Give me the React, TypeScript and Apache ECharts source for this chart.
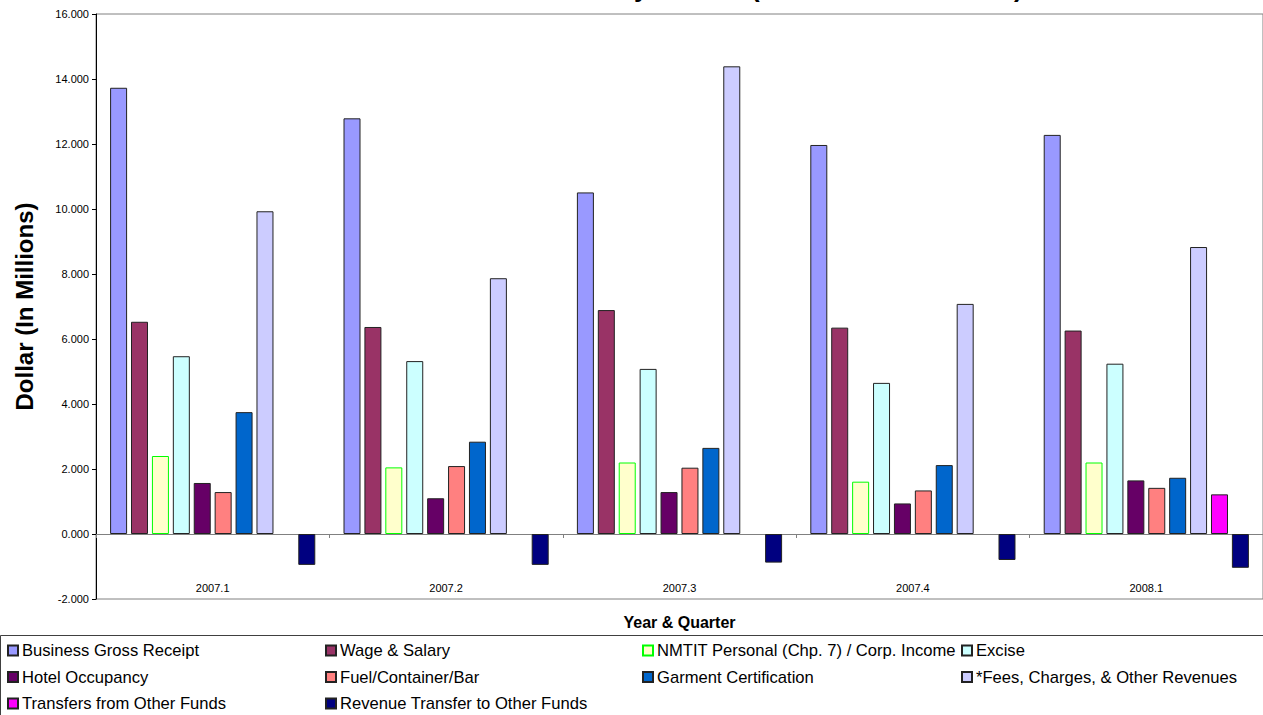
import React, { useEffect, useRef } from "react";
import * as echarts from "echarts";

const categories = ["2007.1", "2007.2", "2007.3", "2007.4", "2008.1"];
const businessGrossReceipt = [13.73, 12.79, 10.51, 11.97, 12.28];
const wageSalary = [6.53, 6.37, 6.89, 6.35, 6.26];
const nmtitIncome = [2.4, 2.05, 2.2, 1.61, 2.2];
const excise = [5.47, 5.32, 5.08, 4.65, 5.24];
const hotelOccupancy = [1.57, 1.1, 1.29, 0.94, 1.65];
const fuelContainerBar = [1.29, 2.09, 2.04, 1.34, 1.42];
const garmentCertification = [3.75, 2.84, 2.65, 2.12, 1.73];
const feesCharges = [9.93, 7.87, 14.39, 7.08, 8.83];
const transfersFromOther = [null, null, null, null, 1.22];
const revenueTransferOut = [-0.95, -0.95, -0.88, -0.8, -1.04];

const yTicks = { min: -2, max: 16, interval: 2 };

const FONT = "'Liberation Sans', Arial, sans-serif";

const seriesDefs = [
  { name: "Business Gross Receipt", data: businessGrossReceipt, color: "#9999FF", border: "#222" },
  { name: "Wage & Salary", data: wageSalary, color: "#993366", border: "#222" },
  { name: "NMTIT Personal (Chp. 7) / Corp. Income", data: nmtitIncome, color: "#FFFFCC", border: "#00FF00" },
  { name: "Excise", data: excise, color: "#CCFFFF", border: "#222" },
  { name: "Hotel Occupancy", data: hotelOccupancy, color: "#660066", border: "#222" },
  { name: "Fuel/Container/Bar", data: fuelContainerBar, color: "#FF8080", border: "#222" },
  { name: "Garment Certification", data: garmentCertification, color: "#0066CC", border: "#222" },
  { name: "*Fees, Charges, & Other Revenues", data: feesCharges, color: "#CCCCFF", border: "#222" },
  { name: "Transfers from Other Funds", data: transfersFromOther, color: "#FF00FF", border: "#222" },
  { name: "Revenue Transfer to Other Funds", data: revenueTransferOut, color: "#000080", border: "#222" },
];

const legendColumns = [
  { left: 7, names: ["Business Gross Receipt", "Hotel Occupancy", "Transfers from Other Funds"] },
  { left: 325, names: ["Wage & Salary", "Fuel/Container/Bar", "Revenue Transfer to Other Funds"] },
  { left: 642, names: ["NMTIT Personal (Chp. 7) / Corp. Income", "Garment Certification"] },
  { left: 961, names: ["Excise", "*Fees, Charges, & Other Revenues"] },
];

export default function App() {
  const ref = useRef<HTMLDivElement>(null);
  useEffect(() => {
    document.body.style.margin = "0";
    if (!ref.current) return;
    const chart = echarts.init(ref.current, undefined, { renderer: "svg" });
    const option: any = {
      animation: false,
      backgroundColor: "#fff",
      textStyle: { fontFamily: FONT },
      grid: {
        left: 96,
        top: 14,
        width: 1168,
        height: 585,
        show: true,
        borderColor: "#808080",
        borderWidth: 1,
        containLabel: false,
      },
      legend: legendColumns.map((c) => ({
        data: c.names,
        orient: "vertical",
        left: c.left,
        top: 642,
        padding: 0,
        itemGap: 9.5,
        itemWidth: 10,
        itemHeight: 10,
        icon: "rect",
        selectedMode: false,
        textStyle: { fontSize: 16.6, color: "#000", fontFamily: FONT, padding: [0, 0, 0, -1] },
      })),
      xAxis: [
        {
          type: "category",
          data: categories,
          position: "bottom",
          axisLine: { show: false, onZero: false },
          axisTick: { show: false },
          axisLabel: { inside: true, margin: 6, fontSize: 11, color: "#000", fontFamily: FONT },
          splitLine: { show: false },
          name: "Year & Quarter",
          nameLocation: "middle",
          nameGap: 15,
          nameTextStyle: { fontSize: 16, fontWeight: "bold", color: "#000", fontFamily: FONT },
        },
        {
          type: "category",
          data: categories,
          position: "bottom",
          axisLine: { show: true, onZero: true, onZeroAxisIndex: 0, lineStyle: { color: "#808080", width: 1 } },
          axisTick: { show: true, length: 4, alignWithLabel: false, lineStyle: { color: "#808080" } },
          axisLabel: { show: false },
          splitLine: { show: false },
        },
      ],
      yAxis: {
        type: "value",
        min: yTicks.min,
        max: yTicks.max,
        interval: yTicks.interval,
        axisLine: { show: true, lineStyle: { color: "#000", width: 1 } },
        axisTick: { show: true, length: 4, lineStyle: { color: "#000" } },
        axisLabel: {
          fontSize: 11,
          color: "#000",
          margin: 7,
          fontFamily: FONT,
          formatter: (v: number) => v.toFixed(3),
        },
        splitLine: { show: false },
        name: "Dollar (In Millions)",
        nameLocation: "middle",
        nameGap: 60,
        nameTextStyle: { fontSize: 24, fontWeight: "bold", color: "#000", fontFamily: FONT },
      },
      graphic: [
        {
          type: "rect",
          silent: true,
          shape: { x: 0.5, y: 635.5, width: 1300, height: 200 },
          style: { fill: "none", stroke: "#404040", lineWidth: 1 },
          z: 0,
        },
        {
          type: "text",
          silent: true,
          x: 652,
          y: 1,
          style: {
            text: "CNMI Revenue Collections by Source (In Millions of Dollars)",
            font: `bold 26px ${FONT}`,
            fill: "#000",
            textAlign: "center",
            textVerticalAlign: "bottom",
          },
        },
      ],
      series: seriesDefs.map((s) => ({
        name: s.name,
        type: "bar",
        xAxisIndex: 0,
        data: s.data,
        barWidth: 17,
        barGap: "23%",
        itemStyle: { color: s.color, borderColor: s.border, borderWidth: 1 },
        emphasis: { disabled: true },
      })),
    };
    chart.setOption(option);
    return () => chart.dispose();
  }, []);
  return <div ref={ref} style={{ width: "1263px", height: "715px" }} />;
}
